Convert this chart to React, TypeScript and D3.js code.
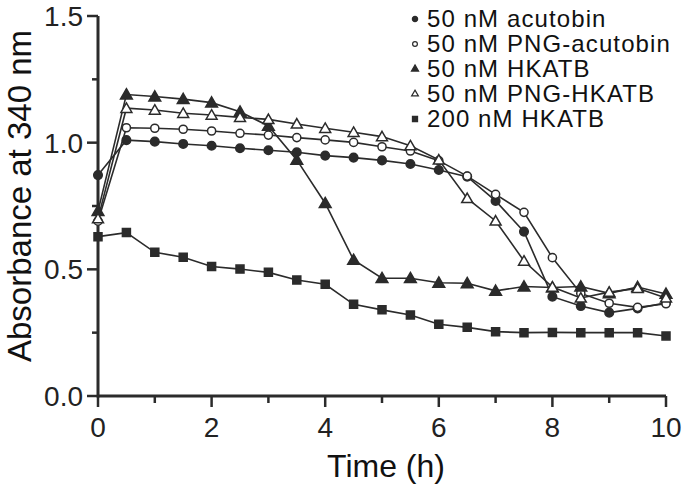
import React from "react";
import * as d3 from "d3";

const times = [0, 0.5, 1, 1.5, 2, 2.5, 3, 3.5, 4, 4.5, 5, 5.5, 6, 6.5, 7, 7.5, 8, 8.5, 9, 9.5, 10];

const acutobin = [0.872, 1.01, 1.004, 0.995, 0.988, 0.978, 0.97, 0.962, 0.949, 0.941, 0.93, 0.916, 0.892, 0.866, 0.77, 0.649, 0.392, 0.355, 0.329, 0.346, 0.368];
const pngAcutobin = [0.69, 1.059, 1.057, 1.053, 1.046, 1.037, 1.03, 1.02, 1.011, 1.001, 0.984, 0.967, 0.929, 0.868, 0.796, 0.725, 0.546, 0.405, 0.366, 0.35, 0.364];
const hkatb = [0.73, 1.19, 1.182, 1.172, 1.158, 1.122, 1.066, 0.932, 0.761, 0.537, 0.465, 0.465, 0.447, 0.445, 0.415, 0.432, 0.428, 0.432, 0.405, 0.43, 0.403];
const pngHkatb = [0.7, 1.136, 1.129, 1.116, 1.109, 1.1, 1.092, 1.074, 1.057, 1.041, 1.024, 0.988, 0.932, 0.78, 0.691, 0.533, 0.43, 0.387, 0.41, 0.425, 0.387];
const hkatb200 = [0.629, 0.645, 0.567, 0.548, 0.511, 0.501, 0.488, 0.458, 0.441, 0.362, 0.34, 0.32, 0.283, 0.271, 0.254, 0.25, 0.251, 0.25, 0.25, 0.25, 0.237];

const seriesNames = ["50 nM acutobin", "50 nM PNG-acutobin", "50 nM HKATB", "50 nM PNG-HKATB", "200 nM HKATB"];
const xTickLabels = [0, 2, 4, 6, 8, 10];
const yTickLabels = [0.0, 0.5, 1.0, 1.5];

const ink = "#2b2b2b";

type Series = { name: string; values: number[]; shape: d3.SymbolType; filled: boolean; size: number; legendSize: number };

const series: Series[] = [
  { name: seriesNames[0], values: acutobin, shape: d3.symbolCircle, filled: true, size: 58, legendSize: 22 },
  { name: seriesNames[1], values: pngAcutobin, shape: d3.symbolCircle, filled: false, size: 52, legendSize: 18 },
  { name: seriesNames[2], values: hkatb, shape: d3.symbolTriangle, filled: true, size: 60, legendSize: 22 },
  { name: seriesNames[3], values: pngHkatb, shape: d3.symbolTriangle, filled: false, size: 52, legendSize: 20 },
  { name: seriesNames[4], values: hkatb200, shape: d3.symbolSquare, filled: true, size: 64, legendSize: 26 },
];

export default function App() {
  const x = d3.scaleLinear().domain([0, 10]).range([98, 666]);
  const y = d3.scaleLinear().domain([0, 1.5]).range([396, 16]);
  const line = d3.line<number>().x((_, i) => x(times[i])).y((v) => y(v));
  const font = "'Liberation Sans', Arial, sans-serif";
  const xMinor = d3.range(0, 11, 1);
  const yMinor = d3.range(0, 1.51, 0.25);

  return (
    <svg width={688} height={492} style={{ position: "absolute", left: 0, top: 0, background: "#fff" }} fontFamily={font}>
      {/* axes */}
      <line x1={x(0)} x2={x(10)} y1={396} y2={396} stroke={ink} strokeWidth={3} />
      <line x1={98} x2={98} y1={y(1.5)} y2={y(0) + 1.5} stroke={ink} strokeWidth={3} />
      {xMinor.map((t) => (
        <line key={"xt" + t} x1={x(t)} x2={x(t)} y1={396} y2={t % 2 === 0 ? 407 : 403} stroke={ink} strokeWidth={2.5} />
      ))}
      {yMinor.map((t) => (
        <line key={"yt" + t} x1={98} x2={Math.abs((t * 2) % 1) < 1e-6 ? 87 : 92} y1={y(t)} y2={y(t)} stroke={ink} strokeWidth={2.5} />
      ))}
      {xTickLabels.map((t) => (
        <text key={"xl" + t} x={x(t)} y={437} textAnchor="middle" fontSize={28} fill="#222">
          {t}
        </text>
      ))}
      {yTickLabels.map((t) => (
        <text key={"yl" + t} x={83} y={y(t) + 10} textAnchor="end" fontSize={28} fill="#222">
          {t.toFixed(1)}
        </text>
      ))}
      <text x={386} y={477} textAnchor="middle" fontSize={32} fill="#111">
        Time (h)
      </text>
      <text transform="translate(31,196) rotate(-90)" textAnchor="middle" fontSize={33} fill="#111">
        Absorbance at 340 nm
      </text>

      {/* series */}
      {series.map((s) => (
        <path key={"l" + s.name} d={line(s.values) || ""} fill="none" stroke={ink} strokeWidth={1.6} />
      ))}
      {series.map((s) =>
        s.values.map((v, i) => (
          <path
            key={s.name + i}
            d={d3.symbol().type(s.shape).size(s.size)() || ""}
            transform={`translate(${x(times[i])},${y(v) + (s.shape === d3.symbolTriangle ? 1 : 0)})`}
            fill={s.filled ? ink : "#fff"}
            stroke={ink}
            strokeWidth={1.5}
          />
        ))
      )}

      {/* legend */}
      {series.map((s, i) => (
        <g key={"lg" + s.name} transform={`translate(0,${27 + i * 25})`}>
          <path
            d={d3.symbol().type(s.shape).size(s.legendSize)() || ""}
            transform={`translate(415,-8)`}
            fill={s.filled ? ink : "#fff"}
            stroke={ink}
            strokeWidth={1.2}
          />
          <text x={427} y={0} fontSize={24} letterSpacing={1.1} fill="#111">
            {s.name}
          </text>
        </g>
      ))}
    </svg>
  );
}
